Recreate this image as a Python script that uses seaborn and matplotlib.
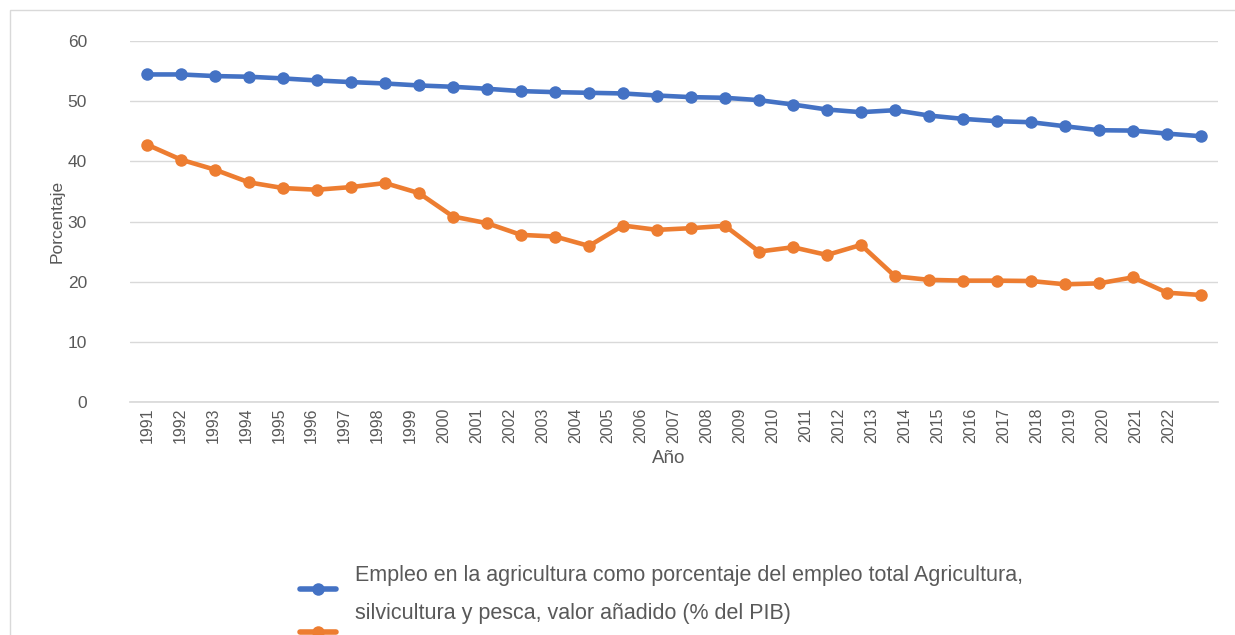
import matplotlib
matplotlib.use("Agg")
import matplotlib.pyplot as plt
from matplotlib.lines import Line2D
from matplotlib.patches import Rectangle
import seaborn as sns
import numpy as np
import pandas as pd

years = [str(y) for y in range(1991, 2023)]
empleo = [54.44, 54.44, 54.17, 54.06, 53.78, 53.44, 53.17, 52.94,
          52.61, 52.39, 52.06, 51.67, 51.5, 51.39, 51.28, 50.94,
          50.67, 50.56, 50.17, 49.44, 48.61, 48.17, 48.5, 47.61,
          47.06, 46.67, 46.5, 45.83, 45.17, 45.11, 44.61, 44.17]
valor = [42.78, 40.28, 38.61, 36.5, 35.56, 35.28, 35.72, 36.39,
         34.72, 30.83, 29.72, 27.78, 27.5, 25.94, 29.33, 28.61,
         28.89, 29.28, 25.0, 25.72, 24.44, 26.11, 20.9, 20.3,
         20.17, 20.17, 20.11, 19.56, 19.72, 20.72, 18.17, 17.78]
series_names = ["Empleo", "Valor"]
legend_lines = ["Empleo en la agricultura como porcentaje del empleo total Agricultura,",
                "silvicultura y pesca, valor añadido (% del PIB)"]
colors = ["#4472C4", "#ED7D31"]
yticks = [0, 10, 20, 30, 40, 50, 60]

df = pd.DataFrame({
    "x": list(range(len(years))) * 2,
    "valor": empleo + valor,
    "serie": [series_names[0]] * len(years) + [series_names[1]] * len(years),
})

sns.set_theme(style="white")
plt.rcParams["font.family"] = ["Liberation Sans", "DejaVu Sans"]

W, H = 1235, 635
fig = plt.figure(figsize=(W / 100, H / 100), dpi=100)
ax = fig.add_axes([130 / W, 1 - 402 / H, (1218 - 130) / W, (402 - 41) / H])

sns.lineplot(data=df, x="x", y="valor", hue="serie", palette=colors,
             marker="o", markersize=9, markeredgewidth=0, linewidth=3.3,
             legend=False, ax=ax)

ax.set_xlim(-0.5, len(years) - 0.5)
ax.set_ylim(0, 60)
ax.set_yticks(yticks)
ax.set_yticklabels([str(t) for t in yticks])
ax.set_xticks(np.arange(len(years)) * 0.969)
ax.set_xticklabels(years, rotation=90, va="top", ha="center")
ax.grid(axis="y", color="#d9d9d9", linewidth=1)
ax.set_axisbelow(True)
for s in ["top", "right", "left"]:
    ax.spines[s].set_visible(False)
ax.spines["bottom"].set_color("#d9d9d9")
ax.tick_params(axis="y", length=0, pad=31, labelsize=12.5, labelcolor="#595959")
ax.tick_params(axis="x", length=0, pad=4, labelsize=11.5, labelcolor="#595959")

ax.set_ylabel("Porcentaje", fontsize=12.5, color="#595959")
ax.yaxis.set_label_coords(-0.060, 0.5)
ax.set_xlabel("Año", fontsize=13.5, color="#595959")
ax.xaxis.set_label_coords(0.495, -0.133)

# legend (as drawn in reference)
ys_text = [575, 613]
ys_handle = [589, 632]
for i in range(2):
    fig.text(355 / W, 1 - ys_text[i] / H, legend_lines[i], fontsize=15.5,
             color="#595959", ha="left", va="center")
    fig.add_artist(Line2D([300 / W, 336 / W], [1 - ys_handle[i] / H] * 2,
                          color=colors[i], linewidth=4, transform=fig.transFigure))
    fig.add_artist(Line2D([318 / W], [1 - ys_handle[i] / H], color=colors[i],
                          marker="o", markersize=9, markeredgewidth=0,
                          transform=fig.transFigure))

fig.add_artist(Rectangle((10 / W, -0.01), 1.0, 1 - 10 / H + 0.01, fill=False,
                         edgecolor="#d9d9d9", linewidth=1, transform=fig.transFigure))

fig.savefig("out.png", dpi=100)
